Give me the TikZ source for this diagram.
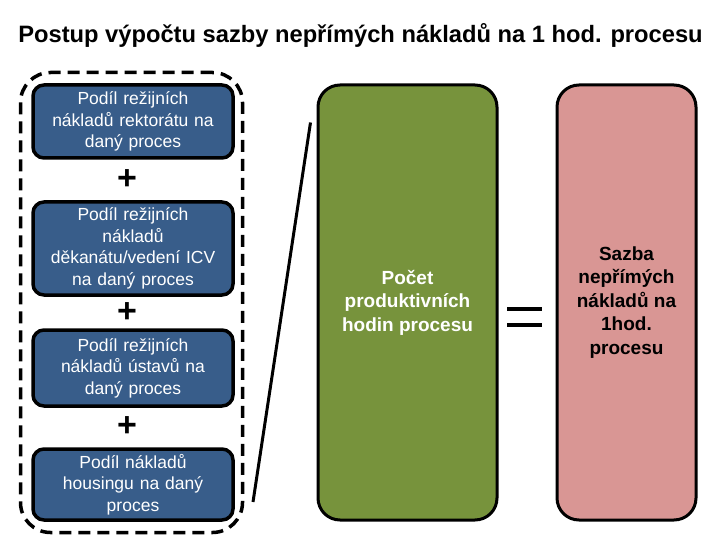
\documentclass[tikz,border=0pt]{standalone}
\usepackage{fontspec}
\setmainfont{Liberation Sans}
\definecolor{boxblue}{RGB}{56,93,138}
\definecolor{boxgreen}{RGB}{119,147,60}
\definecolor{boxpink}{RGB}{217,150,148}
\begin{document}
\begin{tikzpicture}[x=1pt,y=-1pt,
  bluebox/.style={draw=black,line width=3.5pt,fill=boxblue,rounded corners=11pt,
    minimum width=200pt,text=white,align=center,text width=194pt,
    font=\fontsize{17.5}{21.5}\selectfont,inner sep=0pt},
  bigbox/.style={draw=black,line width=3pt,rounded corners=22pt,align=center,
    font=\fontsize{19}{23.5}\selectfont\bfseries,inner sep=0pt},
  opsign/.style={font=\fontsize{34}{34}\selectfont\bfseries,inner sep=0pt}]
\useasboundingbox (0,0) rectangle (720,540);
\node[font=\fontsize{23.7}{27}\selectfont\bfseries] (title) at (360.5,35) {Postup výpočtu sazby nepřímých nákladů na 1 hod. procesu};
\node[draw=black,line width=3.5pt,dash pattern=on 12pt off 7pt,rounded corners=30pt,
  minimum width=222pt,minimum height=460pt] (group) at (131.5,302.5) {};
\node[bluebox,minimum height=73pt] (b1) at (133,121.5) {\vphantom{Ag}Podíl režijních\\nákladů rektorátu na\\daný proces};
\node[bluebox,minimum height=93pt] (b2) at (133,248.5) {Podíl režijních\\nákladů\\děkanátu/vedení ICV\\na daný proces};
\node[bluebox,minimum height=76pt] (b3) at (133,368) {Podíl režijních\\nákladů ústavů na\\daný proces};
\node[bluebox,minimum height=71pt] (b4) at (133,484.5) {Podíl nákladů\\housingu na daný\\proces};
\node[opsign] (p1) at (127,180) {+};
\node[opsign] (p2) at (127,313) {+};
\node[opsign] (p3) at (127,427) {+};
\coordinate (slashtop) at (310.5,122.5);
\coordinate (slashbot) at (253,502);
\draw[line width=3pt] (slashtop) -- (slashbot);
\node[bigbox,fill=boxgreen,text=white,minimum width=179pt,minimum height=435pt] (green) at (407.5,302.5) {Počet\\produktivních\\hodin procesu};
\node[bigbox,fill=boxpink,text=black,minimum width=139pt,minimum height=435pt] (pink) at (626.5,302.5) {Sazba\\nepřímých\\nákladů na\\1hod.\\procesu};
\coordinate (eqa) at (507,308.5);
\coordinate (eqb) at (542,308.5);
\coordinate (eqc) at (507,325);
\coordinate (eqd) at (542,325);
\draw[line width=4pt] (eqa) -- (eqb) (eqc) -- (eqd);
\end{tikzpicture}
\end{document}
